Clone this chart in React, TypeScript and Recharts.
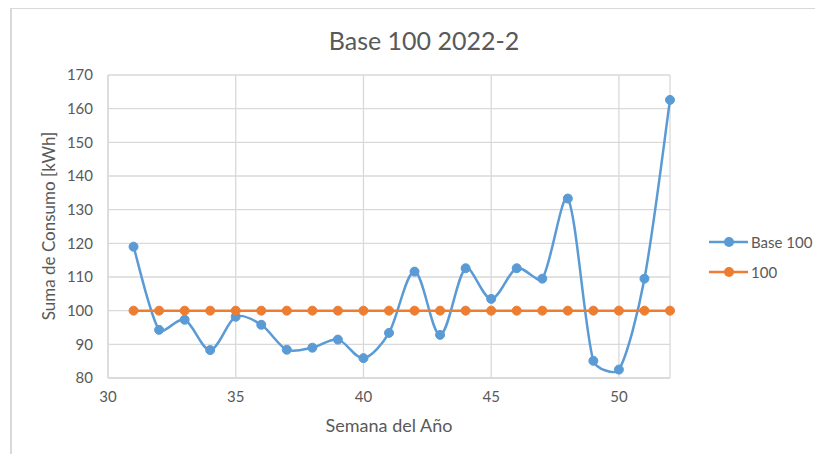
import { CartesianGrid, Line, LineChart, XAxis, YAxis } from "recharts";

const WEEKS = [31, 32, 33, 34, 35, 36, 37, 38, 39, 40, 41, 42, 43, 44, 45, 46, 47, 48, 49, 50, 51, 52];
const BASE_100 = [
  119, 94.3, 97.3, 88.3, 98.2, 95.8, 88.4, 89.0, 91.4, 85.9, 93.4, 111.6, 92.8, 112.6, 103.5, 112.6,
  109.5, 133.3, 85.1, 82.5, 109.5, 162.6,
];
const REF_100 = [100, 100, 100, 100, 100, 100, 100, 100, 100, 100, 100, 100, 100, 100, 100, 100, 100, 100, 100, 100, 100, 100];
const X_TICKS = [30, 35, 40, 45, 50];
const Y_TICKS = [80, 90, 100, 110, 120, 130, 140, 150, 160, 170];

const BLUE = "#5b9bd5";
const ORANGE = "#ed7d31";
const GRID = "#d9d9d9";
const INK = "#595959";
const FONT = "Lato, 'Liberation Sans', sans-serif";

const data = WEEKS.map((week, i) => ({ week, base: BASE_100[i], ref: REF_100[i] }));

// Excel-like smoothed line: Catmull-Rom tangents, shortened next to short segments
const smoothCurve = (context: any) => {
  let pts: [number, number][] = [];
  const dist = (a: [number, number], b: [number, number]) => Math.hypot(b[0] - a[0], b[1] - a[1]);
  return {
    areaStart() {},
    areaEnd() {},
    lineStart() {
      pts = [];
    },
    point(x: number, y: number) {
      pts.push([+x, +y]);
    },
    lineEnd() {
      if (!pts.length) return;
      context.moveTo(pts[0][0], pts[0][1]);
      const k = 1 / 6;
      for (let i = 0; i < pts.length - 1; i++) {
        const p0 = pts[Math.max(i - 1, 0)];
        const p1 = pts[i];
        const p2 = pts[i + 1];
        const p3 = pts[Math.min(i + 2, pts.length - 1)];
        const d01 = dist(p0, p1) || dist(p1, p2);
        const d12 = dist(p1, p2);
        const d23 = dist(p2, p3) || d12;
        const s1 = Math.min(1, (2 * d12) / (d01 + d12));
        const s2 = Math.min(1, (2 * d12) / (d12 + d23));
        context.bezierCurveTo(
          p1[0] + (p2[0] - p0[0]) * k * s1,
          p1[1] + (p2[1] - p0[1]) * k * s1,
          p2[0] - (p3[0] - p1[0]) * k * s2,
          p2[1] - (p3[1] - p1[1]) * k * s2,
          p2[0],
          p2[1]
        );
      }
    },
  };
};

function LegendRow({ color, label, top }: { color: string; label: string; top: number }) {
  return (
    <div style={{ position: "absolute", left: 708, top: top - 10, height: 20, display: "flex", alignItems: "center" }}>
      <svg width={42} height={20}>
        <line x1={1} y1={10} x2={40} y2={10} stroke={color} strokeWidth={2.5} />
        <circle cx={21} cy={10} r={5} fill={color} />
      </svg>
      <span style={{ fontFamily: FONT, fontSize: 15, color: INK, marginLeft: 1 }}>{label}</span>
    </div>
  );
}

export default function App() {
  return (
    <div style={{ position: "relative", margin: "-8px 0 0 -8px", width: 823, height: 454, overflow: "hidden", background: "#fff" }}>
      <div
        style={{
          position: "absolute",
          left: 425,
          top: -12,
          transform: "translateX(-50%)",
          fontFamily: FONT,
          fontWeight: 700,
          fontSize: 20,
          lineHeight: "20px",
          color: "#000",
          whiteSpace: "nowrap",
        }}
      >
        (a)
      </div>
      <div style={{ position: "absolute", left: 10, top: 7, width: 900, height: 600, border: `2px solid ${GRID}`, background: "#fff" }} />

      <div
        style={{
          position: "absolute",
          left: 424,
          top: 40,
          transform: "translate(-50%, -50%)",
          fontFamily: FONT,
          fontSize: 25,
          color: INK,
          whiteSpace: "nowrap",
        }}
      >
        Base 100 2022-2
      </div>

      <div style={{ position: "absolute", left: 0, top: 0 }}>
        <LineChart width={823} height={454} data={data} margin={{ top: 75, right: 153, bottom: 46, left: 48 }}>
          <CartesianGrid stroke={GRID} strokeWidth={1.3} />
          <XAxis
            dataKey="week"
            type="number"
            domain={[30, 52]}
            ticks={X_TICKS}
            height={30}
            axisLine={{ stroke: GRID, strokeWidth: 1.3 }}
            tickLine={false}
            tickSize={0}
            tickMargin={13}
            tick={{ fill: INK, fontSize: 15, fontFamily: FONT }}
          />
          <YAxis
            type="number"
            domain={[80, 170]}
            ticks={Y_TICKS}
            width={60}
            axisLine={{ stroke: GRID, strokeWidth: 1.3 }}
            tickLine={false}
            tickSize={0}
            tickMargin={15}
            tick={{ fill: INK, fontSize: 15, fontFamily: FONT }}
          />
          <Line
            dataKey="base"
            type={smoothCurve as any}
            stroke={BLUE}
            strokeWidth={2.5}
            dot={{ r: 4.5, fill: BLUE, stroke: BLUE, strokeWidth: 1 }}
            isAnimationActive={false}
          />
          <Line
            dataKey="ref"
            type="linear"
            stroke={ORANGE}
            strokeWidth={2.5}
            dot={{ r: 4.5, fill: ORANGE, stroke: ORANGE, strokeWidth: 1 }}
            isAnimationActive={false}
          />
        </LineChart>
      </div>

      <div
        style={{
          position: "absolute",
          left: 48,
          top: 226,
          transform: "translate(-50%, -50%) rotate(-90deg)",
          fontFamily: FONT,
          fontSize: 17,
          color: INK,
          whiteSpace: "nowrap",
        }}
      >
        Suma de Consumo [kWh]
      </div>
      <div
        style={{
          position: "absolute",
          left: 389,
          top: 425,
          transform: "translate(-50%, -50%)",
          fontFamily: FONT,
          fontSize: 18,
          color: INK,
          whiteSpace: "nowrap",
        }}
      >
        Semana del Año
      </div>

      <LegendRow color={BLUE} label="Base 100" top={242} />
      <LegendRow color={ORANGE} label="100" top={272} />
    </div>
  );
}
